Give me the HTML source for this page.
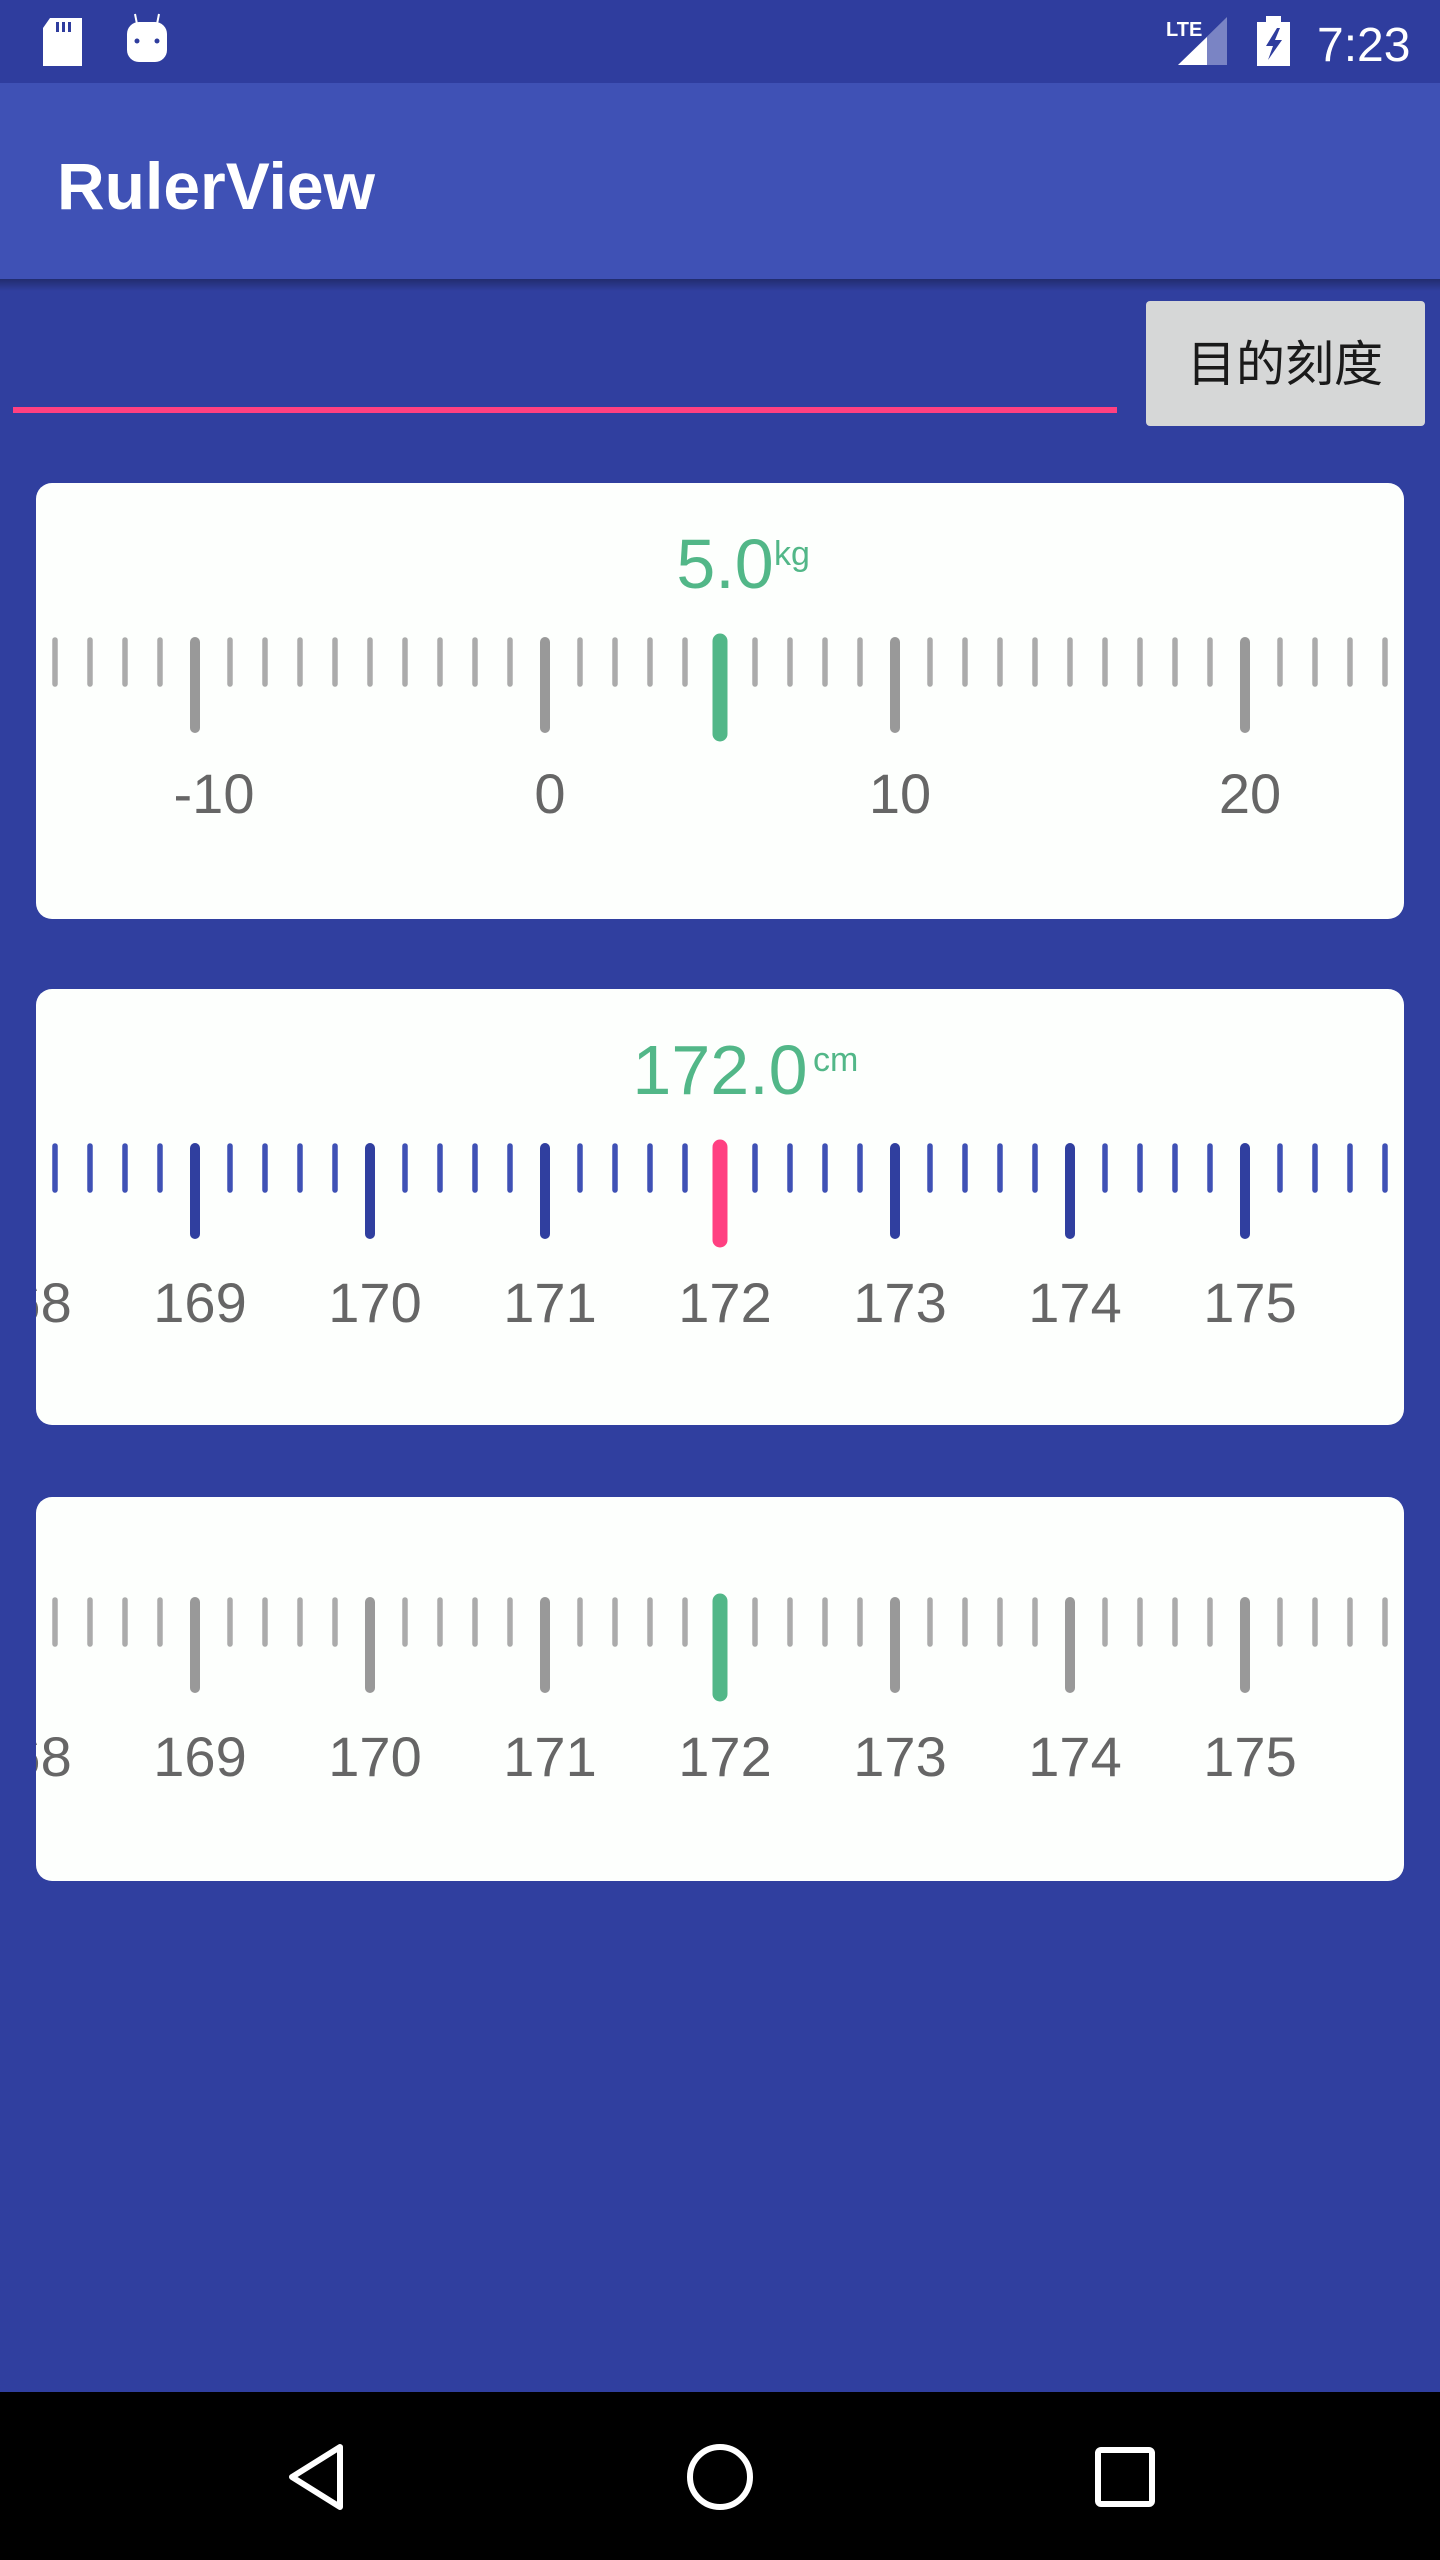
<!DOCTYPE html>
<html><head><meta charset="utf-8"><style>
html,body{margin:0;padding:0;width:1440px;height:2560px;background:#303F9F;overflow:hidden;font-family:"Liberation Sans","Noto Sans CJK SC",sans-serif}
svg{display:block}
</style></head><body>
<svg width="1440" height="2560" viewBox="0 0 1440 2560" xmlns="http://www.w3.org/2000/svg">
<defs>
<linearGradient id="sh" x1="0" y1="0" x2="0" y2="1"><stop offset="0" stop-color="#000" stop-opacity="0.3"/><stop offset="1" stop-color="#000" stop-opacity="0"/></linearGradient>
<clipPath id="c1"><rect x="36" y="483" width="1368" height="436" rx="16"/></clipPath>
<clipPath id="c2"><rect x="36" y="989" width="1368" height="436" rx="16"/></clipPath>
<clipPath id="c3"><rect x="36" y="1497" width="1368" height="384" rx="16"/></clipPath>
</defs>
<rect x="0" y="0" width="1440" height="83" fill="#2F3D9E"/>
<g><path d="M50 18 H82 V66 H43 V28 Z" fill="#fff"/><rect x="56" y="22" width="3" height="10" fill="#2F3D9E"/><rect x="62" y="22" width="3" height="10" fill="#2F3D9E"/><rect x="68" y="22" width="3" height="10" fill="#2F3D9E"/></g>
<g><rect x="127" y="22" width="40" height="40" rx="12" fill="#fff"/><line x1="135" y1="14" x2="137" y2="24" stroke="#fff" stroke-width="2"/><line x1="159" y1="14" x2="157" y2="24" stroke="#fff" stroke-width="2"/><circle cx="137" cy="41" r="2.5" fill="#2F3D9E"/><circle cx="157" cy="41" r="2.5" fill="#2F3D9E"/></g>
<text x="1166" y="36" font-size="20" font-weight="bold" fill="#fff">LTE</text>
<polygon points="1178,65 1227,17 1227,65" fill="#7a84c4"/>
<polygon points="1178,65 1207,37 1207,65" fill="#fff"/>
<g><rect x="1257" y="22" width="33" height="44" fill="#fff"/><rect x="1266" y="16" width="15" height="7" fill="#fff"/><polygon points="1277,28 1266,46 1273,46 1268,60 1282,40 1275,40 1280,28" fill="#2F3D9E"/></g>
<text x="1317" y="61" font-size="48" fill="#fff">7:23</text>
<rect x="0" y="83" width="1440" height="196" fill="#3F51B5"/>
<rect x="0" y="279" width="1440" height="12" fill="url(#sh)"/>
<text x="57" y="209" font-size="66" font-weight="bold" fill="#fff">RulerView</text>
<rect x="13" y="407" width="1104" height="6" fill="#FF4081"/>
<rect x="1146" y="301" width="279" height="125" rx="4" fill="#D6D7D7"/>
<text x="1285" y="381" font-size="49" fill="#1a1a1a" text-anchor="middle" font-family="Noto Sans CJK SC, sans-serif">目的刻度</text>
<rect x="36" y="483" width="1368" height="436" rx="16" fill="#FDFFFD"/>
<rect x="36" y="989" width="1368" height="436" rx="16" fill="#FDFFFD"/>
<rect x="36" y="1497" width="1368" height="384" rx="16" fill="#FDFFFD"/>
<g id="r1" clip-path="url(#c1)"></g>
<g id="r2" clip-path="url(#c2)"></g>
<g id="r3" clip-path="url(#c3)"></g>
<text x="725" y="588" font-size="70" fill="#52B788" text-anchor="middle">5.0</text>
<text x="774" y="565" font-size="34" fill="#52B788">kg</text>
<text x="720" y="1094" font-size="70" fill="#52B788" text-anchor="middle">172.0</text>
<text x="813" y="1071" font-size="34" fill="#52B788">cm</text>
<rect x="0" y="2392" width="1440" height="168" fill="#000"/>
<polygon points="340,2447 340,2507 292,2477" fill="none" stroke="#fff" stroke-width="6" stroke-linejoin="round"/>
<circle cx="720" cy="2477" r="30" fill="none" stroke="#fff" stroke-width="6"/>
<rect x="1098" y="2450" width="54" height="54" rx="3" fill="none" stroke="#fff" stroke-width="6"/>
</svg>
<script>
// Ruler data
const kgCurrent = 5.0;
const kgMin = -14, kgMax = 24, kgStep = 1, kgMajorEvery = 10;
const cmCurrent = 172.0;
const cmMin = 168.2, cmMax = 175.8, cmStep = 0.2, cmMajorEvery = 1;
const plainCurrent = 172.0;
const kgLabels = [-10, 0, 10, 20];
const cmLabels = [168, 169, 170, 171, 172, 173, 174, 175];

const NS = 'http://www.w3.org/2000/svg';
function drawRuler(g, o){
  const x = v => 720 + (v - o.cur) / o.step * 35;
  const n = Math.round((o.max - o.min) / o.step);
  for (let i = 0; i <= n; i++){
    const v = o.min + i * o.step;
    const r = v / o.major;
    const isMajor = Math.abs(r - Math.round(r)) < 1e-6;
    const l = document.createElementNS(NS, 'line');
    
    
    l.setAttribute('x1', x(v)); l.setAttribute('x2', x(v));
    l.setAttribute('y1', isMajor ? o.y0 + 5 : o.y0 + 3);
    l.setAttribute('y2', isMajor ? o.y0 + 91 : o.y0 + 47);
    l.setAttribute('stroke', isMajor ? o.majorC : o.minorC);
    l.setAttribute('stroke-width', isMajor ? 10 : 5.5);
    l.setAttribute('stroke-linecap', 'round');
    g.appendChild(l);
  }
  const ind = document.createElementNS(NS, 'line');
  
  
  ind.setAttribute('x1', x(o.cur)); ind.setAttribute('x2', x(o.cur));
  ind.setAttribute('y1', o.y0 + 4); ind.setAttribute('y2', o.y0 + 97);
  ind.setAttribute('stroke', o.indC); ind.setAttribute('stroke-width', 15);
  ind.setAttribute('stroke-linecap', 'round');
  g.appendChild(ind);
  o.labels.forEach(v => {
    const t = document.createElementNS(NS, 'text');
    
    
    t.setAttribute('x', x(v) + 5 + (v < 0 ? 14 : 0));
    t.setAttribute('y', o.ly);
    t.setAttribute('font-size', 56);
    t.setAttribute('fill', '#666');
    t.setAttribute('text-anchor', 'middle');
    t.textContent = String(v);
    g.appendChild(t);
  });
}
drawRuler(document.getElementById('r1'), {cur:kgCurrent,min:kgMin,max:kgMax,step:kgStep,major:kgMajorEvery,y0:637,ly:813,labels:kgLabels,minorC:'#ABABAB',majorC:'#999999',indC:'#52B788'});
drawRuler(document.getElementById('r2'), {cur:cmCurrent,min:cmMin,max:cmMax,step:cmStep,major:cmMajorEvery,y0:1143,ly:1322,labels:cmLabels,minorC:'#3F51B5',majorC:'#303F9F',indC:'#FF4081'});
drawRuler(document.getElementById('r3'), {cur:plainCurrent,min:cmMin,max:cmMax,step:cmStep,major:cmMajorEvery,y0:1597,ly:1776,labels:cmLabels,minorC:'#ABABAB',majorC:'#999999',indC:'#52B788'});
</script>
</body></html>
